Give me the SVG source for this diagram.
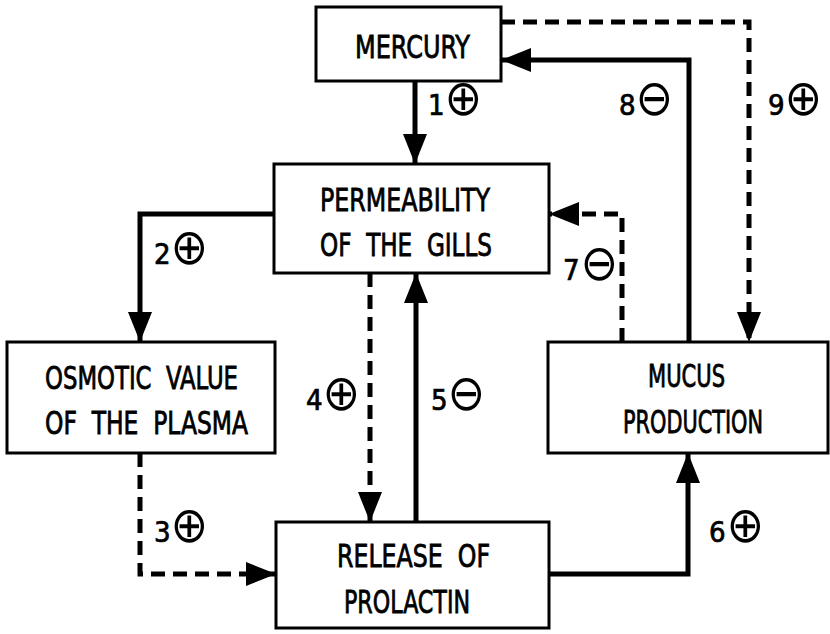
<svg xmlns="http://www.w3.org/2000/svg" width="830" height="634" viewBox="0 0 830 634">
<style>
.box{fill:#fff;stroke:#000;stroke-width:3}
.t{font-family:"DejaVu Sans Condensed","DejaVu Sans",sans-serif;font-stretch:condensed;font-size:32px;fill:#000;stroke:#000;stroke-width:0.8}
.lab{font-family:"DejaVu Sans Condensed","DejaVu Sans",sans-serif;font-stretch:condensed;font-size:29px;fill:#000;stroke:#000;stroke-width:0.7}
.sym{font-family:"DejaVu Sans",sans-serif;font-size:50px;stroke:none}
.solid{fill:none;stroke:#000;stroke-width:5}
.dash{fill:none;stroke:#000;stroke-width:5;stroke-dasharray:14 8}
</style>
<defs>
<marker id="ah" markerUnits="userSpaceOnUse" markerWidth="30" markerHeight="24" refX="30" refY="12" orient="auto">
<path d="M0,0 L30,12 L0,24 z" fill="#000"/>
</marker>
</defs>
<rect width="830" height="634" fill="#fff"/>
<g id="connectors">
<path class="solid" d="M415,81 L415,164" marker-end="url(#ah)"/>
<path class="solid" d="M274,214 L140,214 L140,342" marker-end="url(#ah)"/>
<path class="dash" d="M140,453 L140,574 L276,574" marker-end="url(#ah)"/>
<path class="dash" d="M370,273 L370,522" marker-end="url(#ah)"/>
<path class="solid" d="M416,522 L416,273" marker-end="url(#ah)"/>
<path class="solid" d="M549,574 L688,574 L688,453" marker-end="url(#ah)"/>
<path class="dash" d="M622,342 L622,214 L549,214" marker-end="url(#ah)"/>
<path class="solid" d="M689,342 L689,60 L501,60" marker-end="url(#ah)"/>
<path class="dash" d="M501,22 L749,22 L749,342" marker-end="url(#ah)"/>
</g>
<g id="labels">
<text class="lab" x="428" y="115">1<tspan class="sym" dx="0">⊕</tspan></text>
<text class="lab" x="619" y="115">8<tspan class="sym" dx="0">⊖</tspan></text>
<text class="lab" x="768" y="115">9<tspan class="sym" dx="0">⊕</tspan></text>
<text class="lab" x="154" y="264">2<tspan class="sym" dx="0">⊕</tspan></text>
<text class="lab" x="563" y="280">7<tspan class="sym" dx="1">⊖</tspan></text>
<text class="lab" x="306" y="410">4<tspan class="sym" dx="0">⊕</tspan></text>
<text class="lab" x="431" y="410">5<tspan class="sym" dx="0">⊖</tspan></text>
<text class="lab" x="154" y="542">3<tspan class="sym" dx="0">⊕</tspan></text>
<text class="lab" x="709" y="542">6<tspan class="sym" dx="1">⊕</tspan></text>
</g>
<g id="mercury">
<rect class="box" x="316" y="7" width="185" height="74"/>
<text class="t" x="355" y="58" textLength="115" lengthAdjust="spacingAndGlyphs">MERCURY</text>
</g>
<g id="permeability">
<rect class="box" x="274" y="164" width="275" height="109"/>
<text class="t" x="320" y="211" textLength="170" lengthAdjust="spacingAndGlyphs">PERMEABILITY</text>
<text class="t" x="320" y="256" textLength="172" lengthAdjust="spacingAndGlyphs" xml:space="preserve">OF  THE  GILLS</text>
</g>
<g id="osmotic">
<rect class="box" x="7" y="342" width="268" height="111"/>
<text class="t" x="45" y="389" textLength="193" lengthAdjust="spacingAndGlyphs" xml:space="preserve">OSMOTIC  VALUE</text>
<text class="t" x="45" y="434" textLength="203" lengthAdjust="spacingAndGlyphs" xml:space="preserve">OF  THE  PLASMA</text>
</g>
<g id="mucus">
<rect class="box" x="548" y="342" width="280" height="111"/>
<text class="t" x="648" y="387" textLength="77" lengthAdjust="spacingAndGlyphs">MUCUS</text>
<text class="t" x="623" y="433" textLength="140" lengthAdjust="spacingAndGlyphs">PRODUCTION</text>
</g>
<g id="prolactin">
<rect class="box" x="276" y="522" width="273" height="106"/>
<text class="t" x="337" y="567" textLength="153" lengthAdjust="spacingAndGlyphs" xml:space="preserve">RELEASE  OF</text>
<text class="t" x="344" y="613" textLength="126" lengthAdjust="spacingAndGlyphs">PROLACTIN</text>
</g>
</svg>
